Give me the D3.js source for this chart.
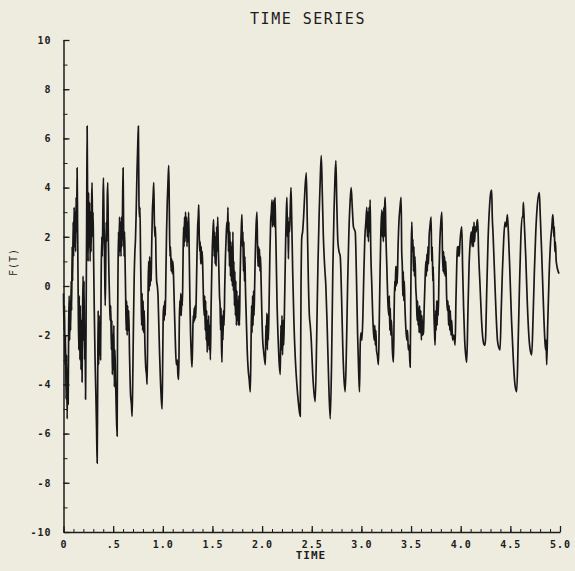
<!DOCTYPE html>
<html>
<head>
<meta charset="utf-8">
<script src="https://cdn.jsdelivr.net/npm/d3@7"></script>
<style>
  body { margin: 0; background: #eeebdf; }
  svg { display: block; }
  text { font-family: "DejaVu Sans Mono", monospace; fill: #1c1c1c; }
</style>
</head>
<body>
<svg id="chart" width="575" height="571"></svg>
<script>
// F(T) as [time, value] pairs, one array per stretch of time
const part1 = [
  [0.000, -0.3], [0.005, -1.8], [0.010, -0.8], [0.015, -3.2], [0.020, -2.0], [0.026, -4.6],
  [0.031, -2.8], [0.037, -5.4], [0.042, -3.4], [0.047, -4.8], [0.052, -1.6], [0.057, -0.4],
  [0.062, -2.2], [0.067, -0.6], [0.072, -1.8], [0.077, 0.2], [0.082, -1.0], [0.087, 1.6],
  [0.092, 0.2], [0.097, 2.6], [0.102, 1.2], [0.107, 3.2], [0.112, 1.6], [0.117, 3.0],
  [0.122, 1.4], [0.127, 3.6], [0.132, 2.2], [0.137, 4.8], [0.142, 2.4], [0.148, -0.5],
  [0.154, -2.6], [0.159, -0.4], [0.165, -3.0], [0.170, -0.8], [0.176, -3.4], [0.181, -1.4],
  [0.187, -3.9], [0.192, -1.2], [0.197, 0.4], [0.202, -2.2], [0.207, 0.2], [0.212, -3.0],
  [0.217, -1.6], [0.222, -4.6], [0.228, -1.0], [0.233, 2.5], [0.238, 6.5], [0.243, 3.2],
  [0.248, 1.0], [0.253, 3.8], [0.258, 1.6], [0.263, 3.4], [0.268, 1.0], [0.273, 3.0],
  [0.278, 1.4], [0.283, 3.4], [0.288, 4.2], [0.293, 2.0], [0.298, 3.0], [0.303, 1.2],
  [0.310, -1.0], [0.318, -3.0], [0.326, -4.4], [0.333, -5.8], [0.339, -7.2], [0.344, -4.2],
  [0.349, -1.0], [0.354, -3.2], [0.359, -1.2], [0.364, -2.8], [0.369, -1.6], [0.373, -3.0],
  [0.379, 0.2], [0.385, 2.0], [0.391, 1.2], [0.397, 3.2], [0.402, 4.4], [0.408, 2.6],
  [0.414, 1.0], [0.420, -0.8], [0.425, 0.6], [0.430, 2.6], [0.435, 1.8], [0.441, 3.6],
  [0.446, 4.2], [0.452, 1.8], [0.458, 0.4], [0.464, -0.6], [0.470, -1.4], [0.476, -0.8],
  [0.482, -2.6], [0.487, -1.4], [0.492, -3.6], [0.497, -2.0], [0.502, -3.4], [0.507, -1.6],
  [0.512, -4.1], [0.518, -2.6], [0.524, -3.8], [0.530, -4.8], [0.540, -6.1], [0.544, -2.0]
];

const part2 = [
  [0.549, 0.6], [0.554, 2.2], [0.559, 1.2], [0.564, 2.8], [0.569, 1.4], [0.574, 2.6],
  [0.579, 1.2], [0.584, 2.8], [0.589, 1.6], [0.594, 3.0], [0.600, 4.8], [0.605, 2.6],
  [0.610, 1.2], [0.615, 2.2], [0.620, 1.0], [0.626, -0.4], [0.631, -1.8], [0.636, -0.6],
  [0.641, -2.0], [0.646, -0.8], [0.651, -1.8], [0.657, -1.0], [0.665, -2.8], [0.675, -4.4],
  [0.684, -4.8], [0.691, -5.3], [0.698, -3.6], [0.705, -1.4], [0.712, 0.4], [0.719, 1.4],
  [0.725, 1.9], [0.732, 3.0], [0.740, 4.6], [0.747, 5.6], [0.754, 6.5], [0.760, 3.4],
  [0.765, 2.8], [0.770, 3.2], [0.776, 1.2], [0.782, -0.4], [0.787, -1.6], [0.792, -0.3],
  [0.797, -1.8], [0.802, -0.6], [0.807, -1.9], [0.813, -1.0], [0.820, -2.4], [0.828, -3.3],
  [0.836, -3.6], [0.842, -4.0], [0.848, -1.8], [0.853, 0.2], [0.858, 1.0], [0.863, -0.2],
  [0.868, 1.2], [0.873, 0.0], [0.878, 1.0], [0.883, 0.2], [0.888, 1.6], [0.895, 3.0],
  [0.902, 3.6], [0.909, 4.2], [0.915, 2.6], [0.920, 2.0], [0.926, 2.4], [0.932, 1.0],
  [0.938, 0.2], [0.945, 0.0], [0.952, -0.4], [0.960, -1.6], [0.968, -2.8], [0.976, -3.8],
  [0.985, -4.6], [0.993, -5.0], [0.999, -3.0], [1.004, -1.2], [1.009, -0.8], [1.014, -1.4],
  [1.019, -0.6], [1.025, -1.2], [1.031, 0.4], [1.038, 2.2], [1.045, 3.4], [1.052, 4.2],
  [1.060, 4.9]
];

const part3 = [
  [1.066, 3.0], [1.072, 1.2], [1.078, 1.6], [1.084, 0.6], [1.090, 1.1], [1.096, 0.5],
  [1.102, 1.0], [1.108, 0.4], [1.116, -0.8], [1.126, -2.2], [1.136, -3.2], [1.146, -3.0],
  [1.152, -3.6], [1.160, -3.8], [1.166, -1.6], [1.171, -0.6], [1.176, -1.2], [1.181, -0.3],
  [1.186, -1.2], [1.191, -0.4], [1.197, -0.8], [1.203, 0.8], [1.209, 2.4], [1.214, 1.6],
  [1.219, 2.8], [1.224, 1.8], [1.229, 3.0], [1.234, 2.0], [1.239, 2.8], [1.244, 1.6],
  [1.249, 2.6], [1.254, 1.8], [1.260, 3.0], [1.266, 1.4], [1.273, -0.6], [1.280, -2.0],
  [1.287, -2.8], [1.294, -3.3], [1.300, -2.4], [1.306, -1.2], [1.311, -1.5], [1.316, -0.9],
  [1.321, -1.4], [1.326, -0.8], [1.331, -1.3], [1.337, -0.4], [1.344, 1.2], [1.351, 2.4],
  [1.357, 2.8], [1.362, 3.3], [1.367, 2.0], [1.372, 1.4], [1.377, 1.8], [1.382, 0.9],
  [1.387, 1.6], [1.392, 0.9], [1.397, 1.4], [1.403, 0.6], [1.410, -0.6], [1.417, -1.2],
  [1.422, -0.4], [1.427, -1.8], [1.432, -0.6], [1.437, -2.2], [1.442, -1.0], [1.447, -2.7],
  [1.452, -1.4], [1.457, -2.4], [1.462, -1.2], [1.467, -2.6], [1.472, -1.6], [1.479, -3.0],
  [1.486, -1.0], [1.493, 0.6], [1.499, 1.6], [1.505, 2.2], [1.512, 2.7], [1.517, 1.2],
  [1.522, 2.2], [1.527, 0.9], [1.532, 2.0], [1.537, 0.8], [1.542, 2.4], [1.547, 1.4],
  [1.553, 2.8], [1.559, 1.6], [1.565, 0.6], [1.571, -0.4], [1.577, -0.8], [1.582, -1.8],
  [1.587, -0.9], [1.591, -2.4], [1.596, -3.1], [1.601, -1.2], [1.606, -2.2], [1.611, -1.0],
  [1.617, -1.6], [1.624, 0.0], [1.631, 1.2], [1.638, 2.0], [1.645, 2.6], [1.651, 2.2],
  [1.656, 3.2], [1.661, 1.4], [1.666, 2.6], [1.671, 0.8], [1.676, 2.2], [1.681, 0.4],
  [1.686, 1.8], [1.691, 0.2], [1.696, 1.6], [1.701, 0.0], [1.706, 2.2], [1.711, -0.2],
  [1.716, 1.0], [1.721, -0.8], [1.726, 0.6], [1.731, -1.2], [1.736, 0.2], [1.741, -1.6],
  [1.746, -0.2], [1.751, -1.4], [1.756, -0.6], [1.761, -1.6], [1.766, -0.4], [1.772, -1.6],
  [1.778, 0.2], [1.785, 1.6], [1.791, 2.4], [1.797, 2.9], [1.802, 1.6], [1.807, 2.2],
  [1.812, 0.6], [1.817, 1.8], [1.822, 0.2], [1.827, 1.2], [1.832, 0.0], [1.840, -1.2],
  [1.850, -2.6], [1.860, -3.4], [1.870, -3.8], [1.881, -4.3], [1.888, -2.6], [1.894, -0.8],
  [1.899, -1.9], [1.904, -0.4], [1.909, -1.6], [1.914, -0.2], [1.919, -1.2], [1.925, 0.0],
  [1.932, 1.4], [1.939, 2.4], [1.948, 3.0], [1.954, 1.6], [1.959, 0.8], [1.964, 1.6],
  [1.969, 0.8], [1.974, 1.5], [1.979, 0.6], [1.984, 1.2], [1.990, 0.2], [1.998, -1.2],
  [2.006, -2.2], [2.014, -2.6], [2.022, -2.9], [2.033, -3.2], [2.038, -1.6], [2.043, -2.4],
  [2.048, -1.1], [2.053, -2.6], [2.058, -1.2], [2.063, -2.2], [2.070, -0.8], [2.078, 1.2],
  [2.086, 2.6], [2.093, 3.0], [2.100, 3.5], [2.105, 2.4], [2.110, 3.4], [2.115, 2.5],
  [2.120, 3.5], [2.125, 2.4], [2.130, 3.6], [2.135, 2.6]
];

const part4 = [
  [2.142, 1.2], [2.150, -0.6], [2.160, -2.0], [2.170, -3.0], [2.183, -3.6], [2.189, -1.6],
  [2.195, -2.6], [2.200, -1.2], [2.206, -2.8], [2.212, -1.4], [2.218, -2.4], [2.224, -1.2],
  [2.231, 0.4], [2.238, 2.0], [2.244, 3.0], [2.250, 3.6], [2.255, 2.0], [2.260, 2.8],
  [2.265, 1.1], [2.270, 2.6], [2.277, 2.2], [2.284, 3.2], [2.291, 4.0], [2.298, 2.8],
  [2.308, 0.6], [2.320, -1.4], [2.335, -3.0], [2.350, -4.0], [2.367, -4.8], [2.384, -5.3],
  [2.392, 0.0], [2.400, 2.0], [2.408, 2.2], [2.418, 2.8], [2.430, 3.8], [2.445, 4.6],
  [2.455, 2.6], [2.466, 0.2], [2.476, -1.2], [2.485, -1.6], [2.495, -2.2], [2.510, -3.6],
  [2.522, -4.3], [2.535, -4.7], [2.550, -2.0], [2.562, 0.8], [2.575, 3.0], [2.586, 4.4],
  [2.596, 5.3], [2.606, 3.8], [2.617, 2.0], [2.630, 0.8], [2.642, 0.0], [2.655, -1.6],
  [2.670, -3.8], [2.686, -5.4], [2.700, -3.0], [2.712, 0.6], [2.724, 3.0], [2.734, 4.4],
  [2.743, 5.1], [2.752, 3.4], [2.763, 1.8], [2.775, 1.4], [2.787, 1.2], [2.800, -0.4],
  [2.812, -2.4], [2.825, -3.8], [2.837, -4.3], [2.850, -2.4], [2.862, 0.2], [2.874, 2.2],
  [2.886, 3.4], [2.897, 4.0], [2.908, 3.2], [2.920, 2.4], [2.938, 2.2], [2.950, 0.4],
  [2.962, -2.0], [2.972, -3.4], [2.981, -4.3], [2.988, -2.4], [2.995, -1.9], [3.005, -2.2],
  [3.015, -1.2], [3.025, 0.6], [3.035, 2.0], [3.045, 2.6], [3.055, 3.2], [3.060, 2.0],
  [3.066, 3.0], [3.071, 1.8], [3.077, 3.2], [3.082, 2.2], [3.088, 3.5], [3.094, 1.6],
  [3.105, 0.0], [3.118, -1.6], [3.128, -2.2], [3.135, -1.6], [3.140, -2.4], [3.146, -1.8],
  [3.152, -2.6], [3.160, -2.8], [3.172, -3.2], [3.180, -1.4], [3.188, 0.6], [3.196, 2.2],
  [3.206, 3.1], [3.211, 2.0], [3.216, 3.0], [3.221, 1.8], [3.226, 3.2], [3.231, 2.0],
  [3.236, 3.4], [3.240, 3.6], [3.246, 2.2]
];

const part5 = [
  [3.256, 0.8], [3.266, -0.6], [3.276, -1.2], [3.281, -0.4], [3.286, -1.8], [3.291, -0.9],
  [3.296, -2.0], [3.303, -1.4], [3.312, -2.6], [3.323, -3.1], [3.330, -1.0], [3.336, 0.2],
  [3.341, -0.2], [3.346, 0.8], [3.351, 0.0], [3.356, 0.8], [3.361, 0.1], [3.368, 1.4],
  [3.378, 2.6], [3.389, 3.2], [3.400, 3.6], [3.406, 1.4], [3.412, 0.8], [3.417, -0.4],
  [3.422, 0.6], [3.427, -0.6], [3.432, 0.2], [3.438, -0.8], [3.446, -1.6], [3.457, -2.2],
  [3.465, -1.8], [3.472, -2.6], [3.480, -2.4], [3.491, -3.3], [3.497, -0.6], [3.503, 1.8],
  [3.508, 2.6], [3.514, 1.4], [3.519, 1.9], [3.524, 0.6], [3.529, 1.6], [3.534, 0.4],
  [3.540, 1.2], [3.547, 0.0], [3.555, -0.6], [3.561, -1.4], [3.566, -0.6], [3.571, -1.6],
  [3.576, -0.9], [3.581, -1.9], [3.586, -0.8], [3.592, -1.9], [3.598, -1.0], [3.604, -2.2],
  [3.610, -1.2], [3.616, -2.0], [3.625, -1.9], [3.633, -0.8], [3.641, 0.2], [3.649, 1.0],
  [3.654, 0.4], [3.659, 1.3], [3.664, 0.6], [3.670, 1.6], [3.676, 0.9], [3.682, 2.0],
  [3.690, 2.4], [3.702, 2.8], [3.708, 1.0], [3.714, 1.6], [3.719, 0.2], [3.724, 0.8],
  [3.730, -1.0], [3.736, -1.8], [3.742, -2.4], [3.748, -1.0], [3.753, -1.8], [3.758, -0.6],
  [3.763, -1.6], [3.768, -0.6], [3.774, -1.2], [3.782, 0.6], [3.790, 1.8], [3.800, 2.6],
  [3.810, 3.0], [3.816, 1.4], [3.822, 0.6], [3.828, 1.4], [3.833, 0.5], [3.838, 1.2],
  [3.843, 0.4], [3.850, 1.0], [3.858, -0.4], [3.866, -1.0], [3.872, -0.6], [3.878, -1.6],
  [3.884, -0.8], [3.890, -1.8], [3.896, -1.0], [3.902, -2.0], [3.910, -1.4], [3.918, -2.2],
  [3.930, -2.0], [3.944, -2.4], [3.952, -0.6], [3.960, 0.8], [3.966, 1.6], [3.972, 1.2],
  [3.978, 1.6], [3.985, 1.2], [3.993, 1.8], [4.002, 2.2], [4.011, 2.4], [4.020, 0.6],
  [4.030, -1.0], [4.040, -2.2], [4.050, -2.8], [4.061, -3.1], [4.072, -1.2], [4.084, 0.8],
  [4.096, 1.8], [4.106, 2.2], [4.116, 1.6], [4.122, 2.4], [4.128, 1.6], [4.134, 2.6],
  [4.140, 1.8], [4.148, 2.4], [4.156, 2.2], [4.164, 2.6], [4.171, 2.7], [4.180, 1.4],
  [4.195, 0.0], [4.210, -1.4], [4.225, -2.2], [4.238, -2.4], [4.245, -2.4], [4.252, -2.0],
  [4.262, -0.2], [4.275, 1.8], [4.290, 3.2], [4.303, 3.8], [4.312, 3.9], [4.318, 2.8],
  [4.325, 2.2], [4.340, 0.6], [4.355, -1.0], [4.370, -2.2], [4.384, -2.5], [4.396, -2.6],
  [4.408, -1.0], [4.420, 0.6], [4.432, 1.8], [4.446, 2.6], [4.458, 2.4], [4.470, 2.9],
  [4.480, 2.2], [4.495, 0.6], [4.512, -1.4], [4.530, -3.0], [4.546, -4.0], [4.564, -4.3],
  [4.578, -2.4], [4.592, 0.0], [4.606, 2.0], [4.618, 2.8], [4.626, 2.8], [4.631, 3.4],
  [4.640, 2.6], [4.655, 1.2], [4.670, -0.6], [4.686, -2.0], [4.700, -2.6], [4.715, -2.8],
  [4.728, -1.4], [4.742, 0.6], [4.756, 2.2], [4.770, 3.2], [4.792, 3.8], [4.800, 3.0],
  [4.815, 1.4], [4.830, -0.4], [4.845, -2.0], [4.855, -2.6], [4.860, -2.2], [4.866, -3.2],
  [4.876, -1.6], [4.890, 0.4], [4.905, 1.8], [4.918, 2.4], [4.927, 2.9], [4.933, 2.6],
  [4.938, 2.0], [4.943, 2.4], [4.948, 1.4], [4.954, 1.8], [4.962, 1.0], [4.990, 0.5]
];

const xTicks = [0, 0.5, 1, 1.5, 2, 2.5, 3, 3.5, 4, 4.5, 5];
const xTickLabels = ['0', '.5', '1.0', '1.5', '2.0', '2.5', '3.0', '3.5', '4.0', '4.5', '5.0'];
const yTicks = [-10, -8, -6, -4, -2, 0, 2, 4, 6, 8, 10];
const yTickLabels = ['-10', '-8', '-6', '-4', '-2', '0', '2', '4', '6', '8', '10'];

const series = part1.concat(part2, part3, part4, part5);

const svg = d3.select('#chart');

const x = d3.scaleLinear().domain([0, 5]).range([63.5, 560]);
const y = d3.scaleLinear().domain([-10, 10]).range([532, 40]);

// minor ticks first, then labelled axes on top
svg.append('g')
  .attr('transform', `translate(0,${y(-10)})`)
  .call(d3.axisBottom(x)
    .tickValues(d3.range(0, 51).map(i => i / 10))
    .tickSize(-3)
    .tickFormat(''))
  .call(g => g.select('.domain').remove());

svg.append('g')
  .attr('transform', `translate(${x(0)},0)`)
  .call(d3.axisLeft(y)
    .tickValues(d3.range(-10, 11))
    .tickSize(-4)
    .tickFormat(''))
  .call(g => g.select('.domain').remove());

const xAxis = svg.append('g')
  .attr('transform', `translate(0,${y(-10)})`)
  .call(d3.axisBottom(x)
    .tickValues(xTicks)
    .tickSizeInner(-6)
    .tickSizeOuter(0)
    .tickPadding(9)
    .tickFormat((d, i) => xTickLabels[i]));

const yAxis = svg.append('g')
  .attr('transform', `translate(${x(0)},0)`)
  .call(d3.axisLeft(y)
    .tickValues(yTicks)
    .tickSizeInner(-6)
    .tickSizeOuter(0)
    .tickPadding(12)
    .tickFormat((d, i) => yTickLabels[i]));

[xAxis, yAxis].forEach(g => {
  g.attr('color', '#1c1c1c');
  g.select('.domain').attr('stroke-width', 1.5);
  g.selectAll('.tick line').attr('stroke-width', 1.3);
  g.selectAll('.tick text')
    .style('font-family', '"DejaVu Sans Mono", monospace')
    .style('font-size', '10px')
    .style('font-weight', 'bold')
    .style('letter-spacing', '1px');
});
svg.selectAll('g .tick line').attr('stroke', '#1c1c1c');

// the plot line
const line = d3.line()
  .x(d => x(d[0]))
  .y(d => y(d[1]))
  .curve(d3.curveMonotoneX);

svg.append('path')
  .datum(series)
  .attr('d', line)
  .attr('fill', 'none')
  .attr('stroke', '#181818')
  .attr('stroke-width', 1.7)
  .attr('stroke-linejoin', 'round');

// labels
svg.append('text')
  .attr('x', 308)
  .attr('y', 24)
  .attr('text-anchor', 'middle')
  .style('font-size', '15px')
  .style('letter-spacing', '1.5px')
  .text('TIME SERIES');

svg.append('text')
  .attr('x', 311)
  .attr('y', 559)
  .attr('text-anchor', 'middle')
  .style('font-size', '11px')
  .style('font-weight', 'bold')
  .style('letter-spacing', '1px')
  .text('TIME');

svg.append('text')
  .attr('transform', 'translate(17,262) rotate(-90)')
  .attr('text-anchor', 'middle')
  .style('font-size', '10px')
  .style('letter-spacing', '1px')
  .text('F(T)');
</script>
</body>
</html>
